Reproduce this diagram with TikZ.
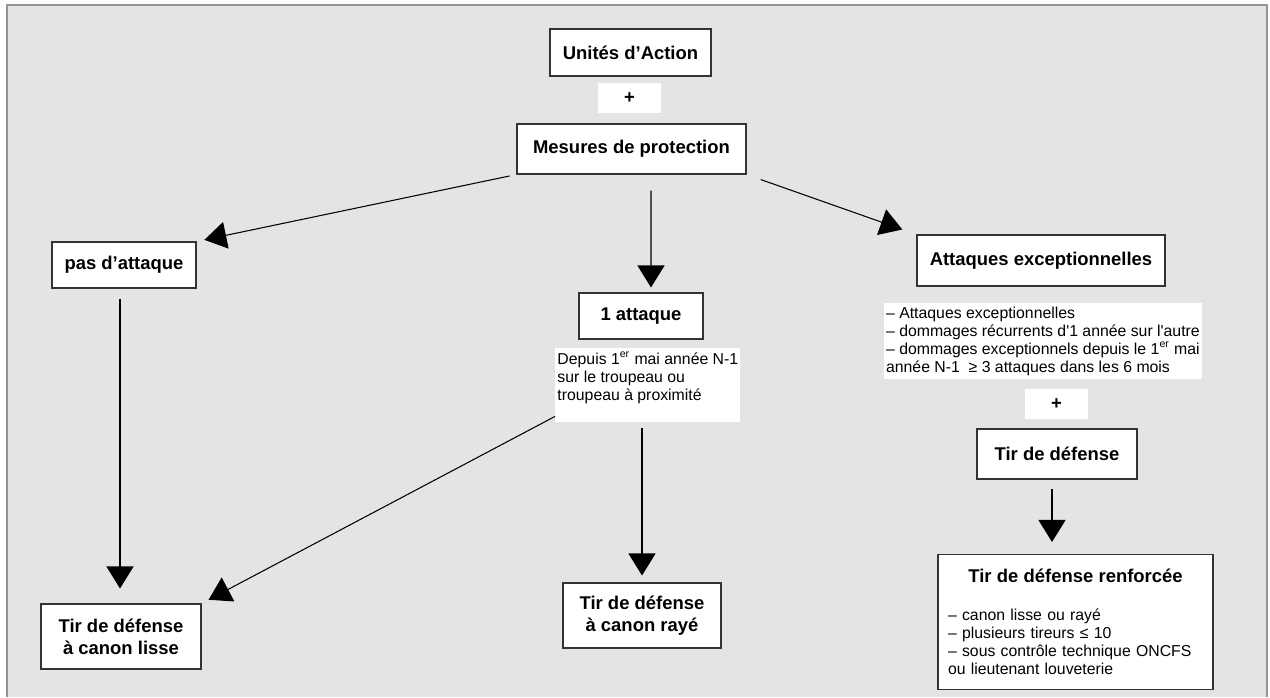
\documentclass[tikz,border=0pt]{standalone}
\usepackage{fontspec}
\setmainfont{Liberation Sans}
\usetikzlibrary{arrows.meta}

\newlength\pxu
\setlength\pxu{0.02cm}
\definecolor{panelgray}{HTML}{E4E4E4}
\definecolor{framegray}{HTML}{949494}

\tikzset{
  box/.style={draw=black!80, line width=0.6pt, fill=white, align=center,
    inner sep=0pt, font=\fontsize{10.5}{12.6}\selectfont\bfseries},
  plusbox/.style={fill=white, inner sep=0pt, minimum width=63\pxu,
    minimum height=30\pxu, font=\fontsize{10.5}{12.6}\selectfont\bfseries},
  note/.style={fill=white, align=left, inner xsep=1pt, inner ysep=2pt,
    font=\fontsize{9}{10.3}\selectfont},
  arr/.style={line width=0.6pt, -{Triangle[width=0.54cm,length=0.44cm]}},
}

\begin{document}
\begin{tikzpicture}[x=0.02cm,y=-0.02cm]

  % Page and grey panel
  \useasboundingbox (0,0) rectangle (1270,697);
  \fill[panelgray] (7,5) rectangle (1267,697);
  \draw[framegray, line width=1pt] (7,697) -- (7,5) -- (1267,5) -- (1267,697);

  % Top of the chart
  \node[box, minimum width=161\pxu, minimum height=47\pxu] (unites) at (630.5,52.5) {Unités d’Action};
  \node[plusbox] (plushaut) at (629.5,98) {+};
  \node[box, minimum width=229\pxu, minimum height=50\pxu] (mesures) at (631.5,149) {Mesures de protection};

  % Three cases
  \node[box, minimum width=144\pxu, minimum height=46\pxu] (pasatt) at (124,265) {pas d’attaque};
  \node[box, minimum width=124\pxu, minimum height=46\pxu] (uneatt) at (641,316) {1 attaque};
  \node[box, minimum width=248\pxu, minimum height=51\pxu] (attexc) at (1041,260.5) {Attaques exceptionnelles};

  % Notes under the cases
  \node[note, anchor=north west, minimum width=185\pxu] (depuis) at (555,348)
    {Depuis 1\textsuperscript{er} mai année N-1\\ sur le troupeau ou\\ troupeau à proximité\\ \mbox{}};
  \node[note, anchor=north west, minimum width=312\pxu] (attnote) at (884,303)
    {– Attaques exceptionnelles\\
     – dommages récurrents d\textquotesingle 1 année sur l\textquotesingle autre\\
     – dommages exceptionnels depuis le 1\textsuperscript{er} mai\\
     année N-1\ \ ≥ 3 attaques dans les 6 mois};

  % Right column
  \node[plusbox] (plusbas) at (1056.5,404) {+};
  \node[box, minimum width=160\pxu, minimum height=50\pxu] (tirdef) at (1057,454) {Tir de défense};
  \node[box, font=\fontsize{9}{10.3}\selectfont, align=left, text width=255\pxu,
    inner xsep=10\pxu, minimum height=135\pxu] (renforce) at (1075.5,622)
    {{\centering\fontsize{10.5}{12.6}\selectfont\bfseries Tir de défense renforcée\par}
     \vspace{11pt}
     – canon lisse ou rayé\\
     – plusieurs tireurs ≤ 10\\
     – sous contrôle technique ONCFS\\
     ou lieutenant louveterie};

  % Results
  \node[box, minimum width=160\pxu, minimum height=65\pxu] (lisse) at (121,636.5) {Tir de défense\\ à canon lisse};
  \node[box, minimum width=158\pxu, minimum height=65\pxu] (raye) at (642,615.5) {Tir de défense\\ à canon rayé};

  % Arrows
  \draw[arr, shorten <=7\pxu, shorten >=8\pxu] (mesures.south west) -- (pasatt.north east);
  \draw[arr, shorten <=16\pxu, shorten >=5\pxu] ([xshift=19.5\pxu]mesures.south) -- ([xshift=10\pxu]uneatt.north);
  \draw[arr, shorten <=15\pxu, shorten >=15\pxu] (mesures.south east) -- (attexc.north west);
  \draw[arr, shorten <=10\pxu, shorten >=15\pxu] ([xshift=-4\pxu]pasatt.south) -- ([xshift=-4\pxu]pasatt.south |- lisse.north);
  \draw[arr, shorten >=8\pxu] ([yshift=6\pxu]depuis.south west) -- (lisse.north east);
  \draw[arr, shorten <=6\pxu, shorten >=7\pxu] (depuis.south -| raye.north) -- (raye.north);
  \draw[arr, shorten <=9\pxu, shorten >=12\pxu] ([xshift=-5\pxu]tirdef.south) -- ([xshift=-5\pxu]tirdef.south |- renforce.north);

\end{tikzpicture}
\end{document}
